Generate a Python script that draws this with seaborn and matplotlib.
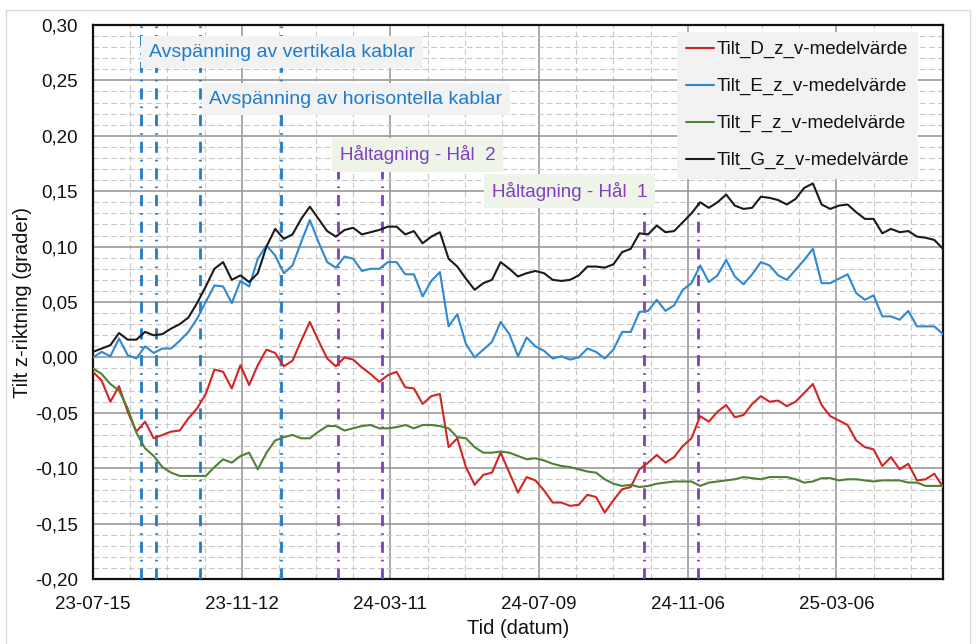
import numpy as np
import pandas as pd
import matplotlib
matplotlib.use("Agg")
import matplotlib.pyplot as plt
import matplotlib.dates as mdates
from matplotlib.ticker import MultipleLocator, FuncFormatter, FixedLocator
from matplotlib.patches import Rectangle
import seaborn as sns

# ---------------- data ----------------
start_date = "2023-07-15"
n_points = 99          # weekly readings

tilt_D = [-0.013, -0.021, -0.040, -0.026, -0.049, -0.067, -0.058, -0.073, -0.070, -0.067,
          -0.066, -0.055, -0.046, -0.033, -0.011, -0.013, -0.028, -0.007, -0.025, -0.007,
          0.007, 0.004, -0.008, -0.003, 0.015, 0.032, 0.015, -0.001, -0.008, 0.000,
          -0.002, -0.009, -0.015, -0.022, -0.016, -0.013, -0.027, -0.028, -0.042, -0.035,
          -0.033, -0.081, -0.073, -0.099, -0.115, -0.106, -0.104, -0.086, -0.104, -0.122,
          -0.108, -0.111, -0.120, -0.131, -0.131, -0.134, -0.133, -0.124, -0.126, -0.140,
          -0.129, -0.119, -0.117, -0.101, -0.095, -0.088, -0.095, -0.090, -0.080, -0.073,
          -0.053, -0.058, -0.049, -0.043, -0.054, -0.052, -0.042, -0.035, -0.040, -0.039,
          -0.044, -0.040, -0.032, -0.024, -0.043, -0.053, -0.057, -0.061, -0.075, -0.081,
          -0.083, -0.098, -0.090, -0.101, -0.096, -0.111, -0.110, -0.105, -0.117]

tilt_E = [0.000, 0.005, 0.001, 0.017, 0.002, -0.001, 0.010, 0.004, 0.008, 0.008,
          0.015, 0.023, 0.035, 0.050, 0.065, 0.064, 0.049, 0.069, 0.064, 0.089,
          0.101, 0.092, 0.076, 0.083, 0.104, 0.124, 0.104, 0.086, 0.081, 0.091,
          0.089, 0.078, 0.080, 0.080, 0.086, 0.086, 0.075, 0.075, 0.055, 0.069,
          0.077, 0.028, 0.039, 0.012, 0.000, 0.007, 0.014, 0.032, 0.021, 0.001,
          0.018, 0.010, 0.006, -0.001, 0.001, -0.002, 0.000, 0.008, 0.005, -0.001,
          0.007, 0.023, 0.023, 0.041, 0.042, 0.052, 0.042, 0.047, 0.061, 0.067,
          0.083, 0.068, 0.074, 0.088, 0.073, 0.066, 0.075, 0.086, 0.083, 0.074,
          0.070, 0.079, 0.088, 0.098, 0.067, 0.067, 0.071, 0.075, 0.058, 0.052,
          0.056, 0.037, 0.037, 0.034, 0.042, 0.028, 0.028, 0.028, 0.021]

tilt_F = [-0.010, -0.015, -0.024, -0.030, -0.046, -0.068, -0.082, -0.089, -0.099, -0.104,
          -0.107, -0.107, -0.107, -0.107, -0.099, -0.092, -0.095, -0.089, -0.086, -0.101,
          -0.086, -0.075, -0.072, -0.070, -0.073, -0.073, -0.067, -0.062, -0.062, -0.066,
          -0.064, -0.062, -0.061, -0.064, -0.064, -0.063, -0.061, -0.064, -0.061, -0.061,
          -0.062, -0.064, -0.072, -0.073, -0.081, -0.086, -0.086, -0.085, -0.086, -0.089,
          -0.092, -0.091, -0.093, -0.096, -0.098, -0.099, -0.101, -0.103, -0.104, -0.110,
          -0.114, -0.116, -0.115, -0.117, -0.116, -0.114, -0.113, -0.112, -0.112, -0.112,
          -0.116, -0.113, -0.112, -0.111, -0.110, -0.108, -0.109, -0.110, -0.108, -0.108,
          -0.108, -0.110, -0.113, -0.112, -0.109, -0.109, -0.111, -0.110, -0.110, -0.111,
          -0.112, -0.111, -0.111, -0.111, -0.113, -0.113, -0.116, -0.116, -0.116]

tilt_G = [0.005, 0.008, 0.011, 0.022, 0.016, 0.016, 0.023, 0.020, 0.021, 0.026,
          0.030, 0.036, 0.049, 0.064, 0.080, 0.086, 0.070, 0.074, 0.068, 0.076,
          0.100, 0.116, 0.107, 0.111, 0.125, 0.136, 0.125, 0.114, 0.109, 0.115,
          0.117, 0.111, 0.113, 0.115, 0.118, 0.118, 0.111, 0.114, 0.103, 0.109,
          0.113, 0.089, 0.082, 0.071, 0.061, 0.067, 0.070, 0.086, 0.080, 0.073,
          0.076, 0.078, 0.076, 0.070, 0.069, 0.070, 0.074, 0.082, 0.082, 0.081,
          0.084, 0.095, 0.098, 0.112, 0.111, 0.119, 0.113, 0.114, 0.122, 0.130,
          0.140, 0.135, 0.140, 0.147, 0.137, 0.134, 0.135, 0.145, 0.144, 0.142,
          0.138, 0.143, 0.153, 0.157, 0.138, 0.134, 0.137, 0.138, 0.131, 0.125,
          0.125, 0.112, 0.116, 0.113, 0.114, 0.109, 0.108, 0.106, 0.098]

series_names = ["Tilt_D_z_v-medelvärde", "Tilt_E_z_v-medelvärde",
                "Tilt_F_z_v-medelvärde", "Tilt_G_z_v-medelvärde"]
series_colors = ["#D42424", "#2E88D2", "#4F8035", "#1A1A1A"]

x_tick_dates = ["2023-07-15", "2023-11-12", "2024-03-11", "2024-07-09",
                "2024-11-06", "2025-03-06"]

blue_events = ["2023-08-23", "2023-09-04", "2023-10-09", "2023-12-14"]
purple_events_hal2 = ["2024-01-29", "2024-03-04"]
purple_events_hal1 = ["2024-10-02", "2024-11-14"]

ann_texts = ["Avspänning av vertikala kablar", "Avspänning av horisontella kablar",
             "Håltagning - Hål  2", "Håltagning - Hål  1"]
ann_dates = ["2023-08-29", "2023-10-17", "2024-01-30", "2024-06-01"]
ann_values = [0.2755, 0.2332, 0.1827, 0.150]

# ---------------- styling ----------------
sns.set_style("white")
plt.rcParams["font.family"] = ["Liberation Sans", "DejaVu Sans"]

BLUE_EV = "#1F7BCC"
PURPLE = "#7F3FBF"

fig = plt.figure(figsize=(9.76, 6.44), dpi=100)
ax = fig.add_axes([93 / 976, 1 - 579 / 644, 850 / 976, 554 / 644])

dates = pd.date_range(start_date, periods=n_points, freq="7D")
df = pd.DataFrame({
    "Datum": np.tile(dates, 4),
    "Tilt": np.concatenate([tilt_D, tilt_E, tilt_F, tilt_G]),
    "Serie": np.repeat(series_names, n_points),
})

sns.lineplot(data=df, x="Datum", y="Tilt", hue="Serie",
             palette=dict(zip(series_names, series_colors)),
             linewidth=1.5, ax=ax, zorder=5)

# axes limits
ax.set_xlim(dates[0], dates[-1])
ax.set_ylim(-0.20, 0.30)

# ticks / grid
major_x = mdates.date2num(pd.to_datetime(x_tick_dates))
start_num = mdates.date2num(pd.Timestamp(start_date))
end_num = mdates.date2num(dates[-1])
minor_x = np.arange(start_num, end_num + 0.1, 30.0)
ax.xaxis.set_major_locator(FixedLocator(major_x))
ax.xaxis.set_minor_locator(FixedLocator(minor_x))
ax.xaxis.set_major_formatter(mdates.DateFormatter("%y-%m-%d"))
ax.yaxis.set_major_locator(MultipleLocator(0.05))
ax.yaxis.set_minor_locator(MultipleLocator(0.01))
ax.yaxis.set_major_formatter(FuncFormatter(lambda v, p: f"{v:.2f}".replace(".", ",")))

ax.grid(which="major", color="#999999", linewidth=1.2, linestyle="-", zorder=0)
ax.grid(which="minor", color="#c8c8c8", linewidth=0.8, linestyle=(0, (5, 3)), zorder=0)
ax.set_axisbelow(True)

ax.tick_params(axis="both", which="both", length=0, labelsize=13.5, colors="#111111")
ax.tick_params(axis="y", pad=11)
ax.tick_params(axis="x", pad=12)

for sp in ax.spines.values():
    sp.set_visible(True)
    sp.set_color("#111111")
    sp.set_linewidth(1.6)

# event lines
dashdot = (0, (4, 2.5, 0.6, 2.5))
for d in blue_events:
    ax.axvline(pd.Timestamp(d), color=BLUE_EV, linewidth=2.0, linestyle=dashdot, zorder=3)
for d in purple_events_hal2:
    ax.axvline(pd.Timestamp(d), ymax=(0.17 + 0.2) / 0.5, color=PURPLE, linewidth=2.0,
               linestyle=dashdot, zorder=3)
for d in purple_events_hal1:
    ax.axvline(pd.Timestamp(d), ymax=(0.14 + 0.2) / 0.5, color=PURPLE, linewidth=2.0,
               linestyle=dashdot, zorder=3)

# annotation boxes
ann_colors = [BLUE_EV, BLUE_EV, PURPLE, PURPLE]
ann_bg = ["#F2F2F2", "#F2F2F2", "#EEF5E8", "#EEF5E8"]
ann_sizes = [14, 14, 13.5, 13.5]
for t, d, v, c, bg, fs in zip(ann_texts, ann_dates, ann_values, ann_colors, ann_bg, ann_sizes):
    ax.text(pd.Timestamp(d), v, t, color=c, fontsize=fs, ha="left", va="center",
            zorder=7, bbox=dict(boxstyle="square,pad=0.4", fc=bg, ec="none"))

# labels
ax.set_xlabel("Tid (datum)", fontsize=14.5, color="#111111")
ax.set_ylabel("Tilt z-riktning (grader)", fontsize=14.5, color="#111111")
ax.xaxis.set_label_coords(0.5, -0.072)
ax.yaxis.set_label_coords(-0.072, 0.5)

# legend
sns.move_legend(ax, "upper right", bbox_to_anchor=(0.971, 0.988), title=None,
                frameon=True, fontsize=13.5, facecolor="#F2F2F2", edgecolor="none",
                framealpha=1.0, fancybox=False, borderpad=0.5, labelspacing=1.05,
                handlelength=1.45, handletextpad=0.15, borderaxespad=0)
leg = ax.get_legend()
leg.set_zorder(8)
for h in leg.legend_handles:
    h.set_linewidth(1.5)
for txt in leg.get_texts():
    txt.set_color("#111111")

# outer chart-area border
fig.patches.append(Rectangle((5.5 / 976, -0.05), (970 - 5.5) / 976, 1.05 - 9.5 / 644,
                             transform=fig.transFigure, fill=False,
                             edgecolor="#d9d9d9", linewidth=1.0))

fig.savefig("out.png", dpi=100)
